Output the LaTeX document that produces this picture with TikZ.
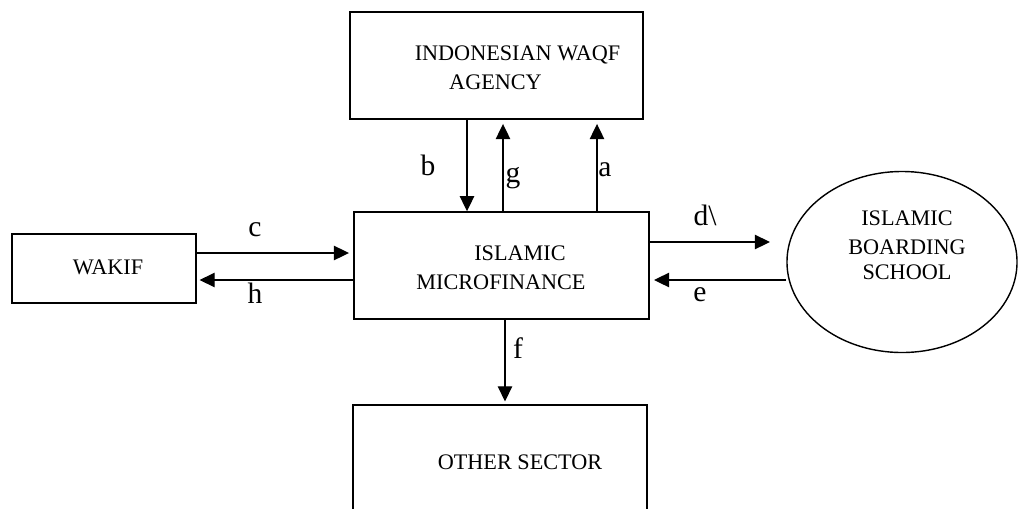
\documentclass[tikz,border=0pt]{standalone}
\usepackage{fontspec}
\setmainfont{Liberation Serif}
\usetikzlibrary{arrows.meta,shapes.geometric}

\begin{document}
\begin{tikzpicture}[x=0.025cm, y=0.025cm,
		box/.style={draw=black, line width=1pt, rectangle},
		flow/.style={draw=black, line width=1pt, -{Triangle[length=0.38cm,width=0.36cm]}},
		txt/.style={font=\fontsize{15.8}{20}\selectfont, anchor=base},
		lbl/.style={font=\fontsize{21}{25}\selectfont}]
				\tikzstyle{every node}+=[inner sep=0pt]
				\clip (0,0) rectangle (1018,-508);
				% blocks
				\node [box, minimum width=7.325cm, minimum height=2.675cm] (agency) at (496.5,-65.5) {};
				\node [box, minimum width=7.375cm, minimum height=2.675cm] (micro) at (501.5,-265.5) {};
				\node [box, minimum width=4.6cm, minimum height=1.725cm] (wakif) at (104,-268.5) {};
				\node [box, minimum width=7.35cm, minimum height=3.25cm] (other) at (500,-470) {};
				\node [draw=black, line width=1pt, ellipse, minimum width=5.75cm, minimum height=4.525cm] (school) at (902,-262) {};
				% block texts
				\node [txt] (agencyA) at (517.5,-60) {INDONESIAN WAQF};
				\node [txt] (agencyB) at (495.5,-89) {AGENCY};
				\node [txt] (microA) at (520,-260) {ISLAMIC};
				\node [txt] (microB) at (501,-289) {MICROFINANCE};
				\node [txt] (wakifA) at (108,-274) {WAKIF};
				\node [txt] (schoolA) at (907,-225) {ISLAMIC};
				\node [txt] (schoolB) at (907,-254) {BOARDING};
				\node [txt] (schoolC) at (907,-279) {SCHOOL};
				\node [txt] (otherA) at (520,-469) {OTHER SECTOR};
				% connector columns and rows
				\coordinate (colb) at (467,0);
				\coordinate (colg) at (503,0);
				\coordinate (cola) at (597,0);
				\coordinate (colf) at (505,0);
				\coordinate (rowc) at (0,-253);
				\coordinate (rowh) at (0,-280);
				\coordinate (rowd) at (0,-242);
				\coordinate (rowe) at (0,-280);
				\coordinate (dend) at (770,-242);
				% connectors
				\draw [flow] (agency.south -| colb) -- (micro.north -| colb);
				\draw [flow, shorten >=3pt] (micro.north -| colg) -- (agency.south -| colg);
				\draw [flow, shorten >=3pt] (micro.north -| cola) -- (agency.south -| cola);
				\draw [flow, shorten >=3pt] (wakif.east |- rowc) -- (micro.west |- rowc);
				\draw [flow, shorten >=2pt] (micro.west |- rowh) -- (wakif.east |- rowh);
				\draw [flow] (micro.east |- rowd) -- (dend);
				\draw [flow, shorten >=3pt] (school.west |- rowe) -- (micro.east |- rowe);
				\draw [flow, shorten >=2pt] (micro.south -| colf) -- (other.north -| colf);
				% connector labels
				\node [lbl] (lb) at (428,-165) {b};
				\node [lbl] (lg) at (513,-178) {g};
				\node [lbl] (la) at (605,-170) {a};
				\node [lbl] (lc) at (255,-230) {c};
				\node [lbl] (lh) at (255,-293) {h};
				\node [lbl] (ld) at (705,-215) {d\textbackslash};
				\node [lbl] (le) at (700,-295) {e};
				\node [lbl] (lf) at (518,-348) {f};
\end{tikzpicture}
\end{document}
